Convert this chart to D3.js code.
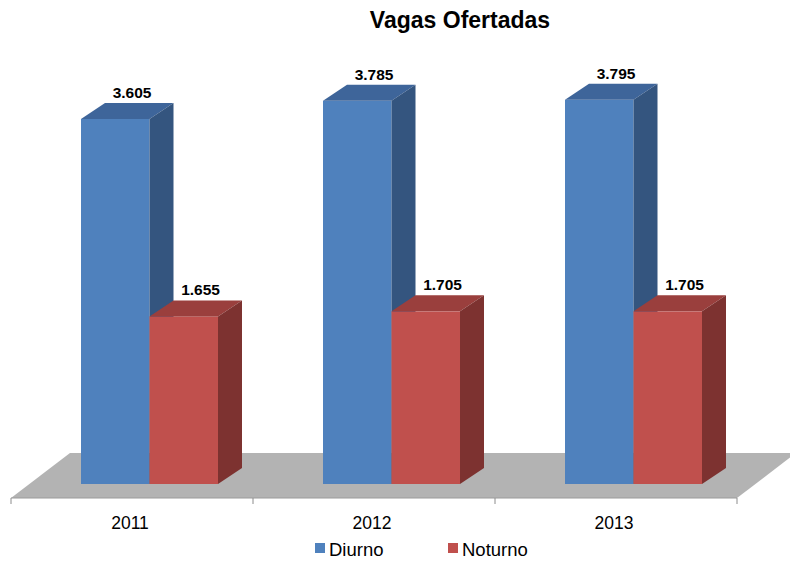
<!DOCTYPE html>
<html>
<head>
<meta charset="utf-8">
<script src="https://cdn.jsdelivr.net/npm/d3@7"></script>
<style>
  body { margin: 0; background: #fff; }
  svg { font-family: "Liberation Sans", Arial, sans-serif; }
</style>
</head>
<body>
<svg id="chart" width="790" height="563"></svg>
<script>
// data
var years = ["2011", "2012", "2013"];
var series = ["Diurno", "Noturno"];
var diurno = [3605, 3785, 3795];
var noturno = [1655, 1705, 1705];

var colors = {
  Diurno:  {front: "#4F81BD", top: "#3E659A", side: "#34557F"},
  Noturno: {front: "#C0504D", top: "#9A3F3D", side: "#7D3230"}
};

// hardcoded layout, 3d offsets of the bars and of the floor
var dx = 24, dy = 16;
var floorDx = 59, floorDy = 45;
var floorFront = 498, barBase = 484;

var svg = d3.select("#chart");

var x = d3.scaleBand().domain(years).range([11, 737]);
var xs = d3.scaleBand().domain(series).range([70, 207]);
var y = d3.scaleLinear().domain([0, 4000]).range([barBase, 79]);

var fmt = d3.formatLocale({decimal: ",", thousands: ".", grouping: [3], currency: ["R$", ""]}).format(",d");

// title
svg.append("text")
  .attr("x", 460).attr("y", 28)
  .attr("text-anchor", "middle")
  .style("font-size", "23px").style("font-weight", "bold")
  .text("Vagas Ofertadas");

// floor
var x0 = x.range()[0], x1 = x.range()[1];
svg.append("path")
  .attr("d", "M" + x0 + "," + floorFront +
             "L" + (x0 + floorDx) + "," + (floorFront - floorDy) +
             "L" + (x1 + floorDx) + "," + (floorFront - floorDy) +
             "L" + x1 + "," + floorFront + "Z")
  .attr("fill", "#B3B3B3");

// axis: ticks sit on the band edges, labels in the middle
var axis = svg.append("g").attr("transform", "translate(0," + floorFront + ")");
axis.append("line")
  .attr("x1", x0).attr("x2", x1)
  .attr("stroke", "#9A9A9A");
var edges = years.map(function(d) { return x(d); }).concat([x1]);
axis.selectAll(".tick").data(edges).enter().append("line")
  .attr("x1", function(d) { return d; }).attr("x2", function(d) { return d; })
  .attr("y1", 0).attr("y2", 6)
  .attr("stroke", "#8C8C8C");
axis.selectAll(".lbl").data(years).enter().append("text")
  .attr("x", function(d) { return x(d) + x.bandwidth() / 2 - 2; })
  .attr("y", 31)
  .attr("text-anchor", "middle")
  .style("font-size", "17.5px")
  .text(function(d) { return d; });

// bars
var rows = [];
years.forEach(function(yr, i) {
  rows.push({year: yr, s: "Diurno", v: diurno[i]});
  rows.push({year: yr, s: "Noturno", v: noturno[i]});
});

rows.forEach(function(r) {
  var bx0 = x(r.year) + xs(r.s), bx1 = bx0 + xs.bandwidth();
  var yt = y(r.v), yb = y(0);
  var c = colors[r.s];
  var g = svg.append("g");
  g.append("rect")
    .attr("x", bx0).attr("y", yt)
    .attr("width", bx1 - bx0).attr("height", yb - yt)
    .attr("fill", c.front);
  g.append("path")
    .attr("d", "M" + bx0 + "," + yt + "L" + (bx0 + dx) + "," + (yt - dy) +
               "L" + (bx1 + dx) + "," + (yt - dy) + "L" + bx1 + "," + yt + "Z")
    .attr("fill", c.top);
  g.append("path")
    .attr("d", "M" + bx1 + "," + yt + "L" + (bx1 + dx) + "," + (yt - dy) +
               "L" + (bx1 + dx) + "," + (yb - dy) + "L" + bx1 + "," + yb + "Z")
    .attr("fill", c.side);
  g.append("text")
    .attr("x", (bx0 + bx1) / 2 + dx * 0.7)
    .attr("y", yt - dy - 5)
    .attr("text-anchor", "middle")
    .style("font-size", "15.5px").style("font-weight", "bold")
    .text(fmt(r.v));
});

// legend
var leg = svg.append("g").attr("transform", "translate(315,543)");
var items = leg.selectAll("g").data(series).enter().append("g")
  .attr("transform", function(d, i) { return "translate(" + (i * 133) + ",0)"; });
items.append("rect")
  .attr("width", 10).attr("height", 10)
  .attr("fill", function(d) { return colors[d].front; });
items.append("text")
  .attr("x", 14).attr("y", 13)
  .style("font-size", "18.5px")
  .text(function(d) { return d; });
</script>
</body>
</html>
